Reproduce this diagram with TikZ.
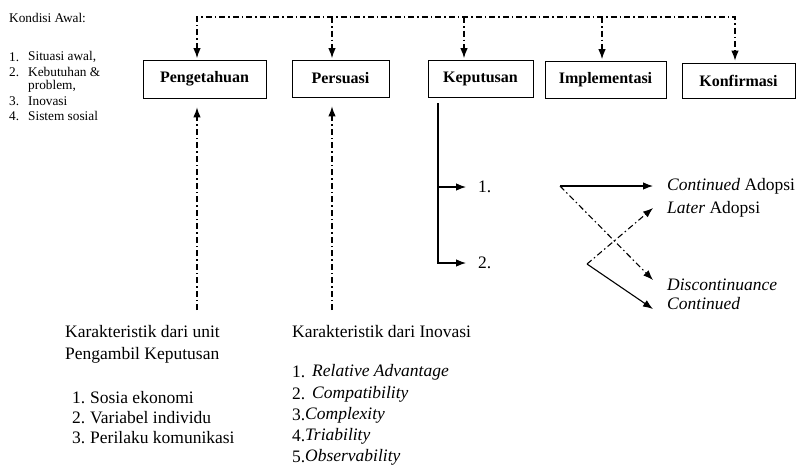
\documentclass[tikz,border=0pt]{standalone}
\usepackage{fontspec}
\setmainfont{Liberation Serif}
\usetikzlibrary{arrows.meta}

\tikzset{
  box/.style={draw, line width=0.8pt, inner sep=0pt, font=\fontsize{16}{18}\selectfont\bfseries},
  txt/.style={inner sep=2pt, anchor=west, font=\fontsize{17.5}{21}\selectfont},
  small/.style={inner sep=0pt, anchor=west, font=\fontsize{13.3}{15}\selectfont},
  dd/.style={line width=1.1pt, dash pattern=on 6pt off 3pt on 1.5pt off 3pt},
  sl/.style={line width=1.1pt}
}

\begin{document}
\begin{tikzpicture}[x=1pt, y=-1pt, >={Latex[length=10pt,width=7.5pt]}]
\useasboundingbox (0,0) rectangle (799,467);

% kondisi awal
\node[small] (kond) at (9,18) {Kondisi Awal:};
\foreach \i/\y/\t in {1/57/{Situasi awal,}, 2/72/Kebutuhan \&, 3/101/Inovasi, 4/116/Sistem sosial}
{
    \node[small] (kn\i) at (9,\y) {\i.};
    \node[small] (kt\i) at (28,\y) {\t};
}
\node[small] (kprob) at (28,86) {problem,};

% tahapan
\node[box, minimum width=123pt, minimum height=38pt] (peng) at (204.5,79) {Pengetahuan};
\node[box, minimum width=97pt, minimum height=37pt] (pers) at (340.5,78.5) {Persuasi};
\node[box, minimum width=105pt, minimum height=37pt] (kep) at (480.5,78.5) {Keputusan};
\node[box, minimum width=121pt, minimum height=37pt] (impl) at (605.5,80) {Implementasi};
\node[box, minimum width=113pt, minimum height=35pt] (konf) at (738.5,80.5) {Konfirmasi};

\coordinate (a1) at (197,17);
\coordinate (a2) at (332,17);
\coordinate (a3) at (464,17);
\coordinate (a4) at (602,17);
\coordinate (a5) at (735,17);
\draw[dd,<->, shorten <=1.5pt, shorten >=2pt] (a1 |- peng.north)--(a1)--(a5)--(a5 |- konf.north);
\draw[dd,->, shorten >=1.5pt] (a2)--(a2 |- pers.north);
\draw[dd,->, shorten >=1.5pt] (a3)--(a3 |- kep.north);
\draw[dd,->, shorten >=2pt] (a4)--(a4 |- impl.north);

% karakteristik
\coordinate (b1) at (197,310);
\coordinate (b2) at (332,310);
\draw[dd,->, shorten >=9pt] (b1)--(b1 |- peng.south);
\draw[dd,->, shorten >=9pt] (b2)--(b2 |- pers.south);

\node[txt] (unit1) at (63,332) {Karakteristik dari unit};
\node[txt] (unit2) at (63,355) {Pengambil Keputusan};
\foreach \i/\y/\t in {1/398/Sosia ekonomi, 2/418/Variabel individu, 3/438/Perilaku komunikasi}
{
    \node[txt] (un\i) at (70,\y) {\i.};
    \node[txt] (ut\i) at (88,\y) {\t};
}

\node[txt] (inov) at (290,332) {Karakteristik dari Inovasi};
\foreach \i/\y/\x/\t in {1/372/310/Relative Advantage, 2/394/310/Compatibility, 3/415/303/Complexity, 4/436/303/Triability, 5/457/303/Observability}
{
    \node[txt] (in\i) at (290,\y) {\i.};
    \node[txt] (it\i) at (\x,\y) {\textit{\t}};
}

% keputusan
\coordinate (k0) at (438,103);
\coordinate (k1) at (438,187);
\coordinate (k2) at (438,263);
\node[txt] (one) at (476,187) {1.};
\node[txt] (two) at (476,263) {2.};
\draw[sl] (k0)--(k1);
\draw[sl,->, shorten >=10pt] (k1)--(one.west);
\draw[sl,->, shorten >=10pt] (k1)--(k2)--(two.west);

% konfirmasi
\node[txt] (cont) at (665,186) {\textit{Continued} Adopsi};
\node[txt] (later) at (665,209) {\textit{Later} Adopsi};
\node[txt] (disc) at (665,285) {\textit{Discontinuance}};
\node[txt] (cont2) at (665,304) {\textit{Continued}};

\coordinate (r1) at (560,186);
\coordinate (r2) at (587,264);
\coordinate (e2) at (653,208);
\coordinate (e3) at (653,280);
\coordinate (e4) at (653,309);
\draw[sl,->, shorten >=12pt] (r1)--(cont.west);
\draw[dd,->] (r1)--(e3);
\draw[dd,->] (r2)--(e2);
\draw[sl,->] (r2)--(e4);
\end{tikzpicture}
\end{document}
